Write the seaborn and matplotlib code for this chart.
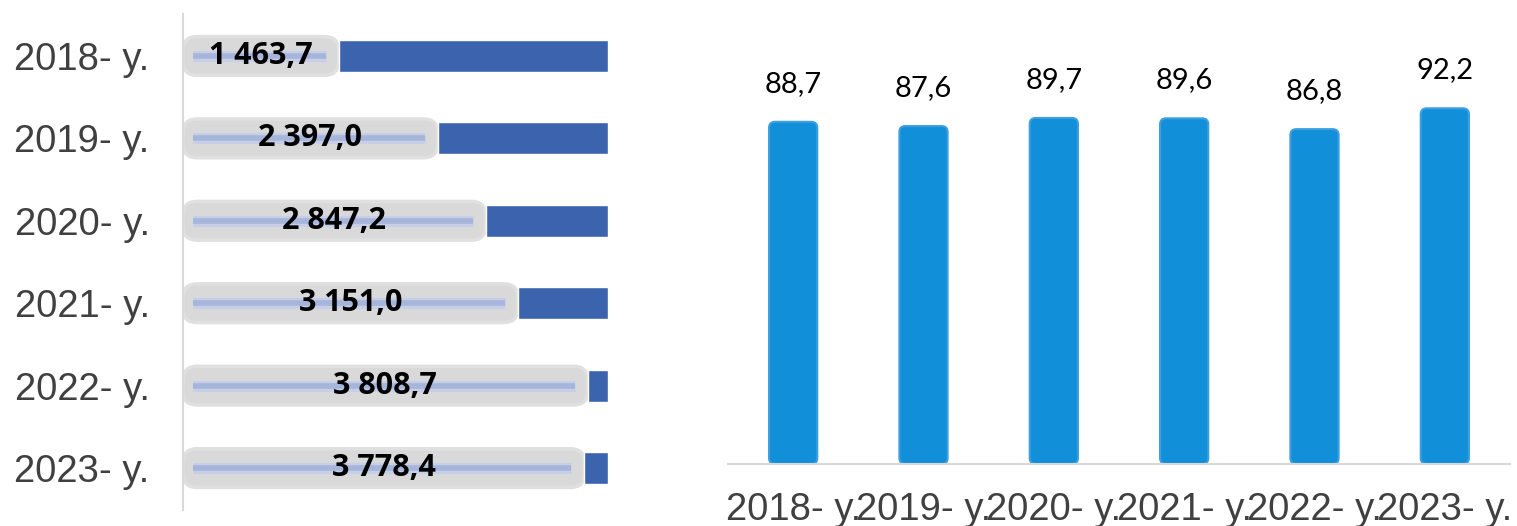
import matplotlib
matplotlib.use("Agg")
import matplotlib.pyplot as plt
import seaborn as sns
import pandas as pd
from matplotlib.patches import FancyBboxPatch

# data
years = ["2018- y.", "2019- y.", "2020- y.", "2021- y.", "2022- y.", "2023- y."]
volume = [1463.7, 2397.0, 2847.2, 3151.0, 3808.7, 3778.4]
volume_labels = ["1 463,7", "2 397,0", "2 847,2", "3 151,0", "3 808,7", "3 778,4"]
volume_cap = 4000
share = [88.7, 87.6, 89.7, 89.6, 86.8, 92.2]
share_labels = ["88,7", "87,6", "89,7", "89,6", "86,8", "92,2"]

sns.set_style("white")
plt.rcParams["font.family"] = ["Liberation Sans", "DejaVu Sans"]

W, H = 1517, 526
fig = plt.figure(figsize=(W / 100, H / 100), dpi=100)
ax1 = fig.add_axes([183 / W, 16 / H, 425 / W, 496 / H])
ax2 = fig.add_axes([728 / W, 62 / H, 782 / W, 434 / H])


def round_patches(ax, rpx, x_per_px, y_per_px, edge, lw):
    """Swap the plain bars for rounded, soft-edged ones."""
    for p in list(ax.patches):
        x, y, w, h = p.get_x(), p.get_y(), p.get_width(), p.get_height()
        fc = p.get_facecolor()
        p.remove()
        box = FancyBboxPatch((x, y), w, h,
                             boxstyle=f"round,pad=0,rounding_size={rpx * x_per_px}",
                             mutation_aspect=y_per_px / x_per_px,
                             facecolor=fc, edgecolor=edge, linewidth=lw, zorder=2)
        ax.add_patch(box)


# ---- left: volume bars ----
df1 = pd.DataFrame({"year": years, "volume": volume})
sns.barplot(data=df1, x="volume", y="year", orient="h", color="#d9d9d9",
            saturation=1, width=0.47, ax=ax1)
ax1.set_xlim(0, volume_cap)
xpp = volume_cap / 425
ypp = 6 / 496
round_patches(ax1, 14, xpp, ypp, "#e0e0e0", 2.5)

rest = [volume_cap - v for v in volume]
ax1.barh(range(len(years)), rest, left=volume, height=0.39, color="#3c64ae", zorder=3)

for i, (v, lab) in enumerate(zip(volume, volume_labels)):
    ax1.hlines(i, 10 * xpp, v - 13 * xpp, color="#c6cfe7", lw=8, zorder=4)
    ax1.hlines(i, 10 * xpp, v - 13 * xpp, color="#a6b5da", lw=4, zorder=4)
    ax1.text(v / 2, i, lab, ha="center", va="center", fontsize=22,
             fontweight="bold", family=["Open Sans", "DejaVu Sans"], color="black", zorder=5)

ax1.set_xlabel("")
ax1.set_ylabel("")
ax1.set_xticks([])
ax1.tick_params(axis="y", length=0, pad=24, labelsize=27.5, labelcolor="#404040")
for s in ["top", "right", "bottom"]:
    ax1.spines[s].set_visible(False)
ax1.spines["left"].set_color("#d9d9d9")
ax1.spines["left"].set_linewidth(1.5)

# ---- right: share bars ----
df2 = pd.DataFrame({"year": years, "share": share})
sns.barplot(data=df2, x="year", y="share", color="#118fd9", saturation=1,
            width=0.37, ax=ax2)
ax2.set_ylim(0, 112.5)
round_patches(ax2, 6, 6 / 782, 112.5 / 434, "#3d9fe0", 1.5)

for i, (v, lab) in enumerate(zip(share, share_labels)):
    ax2.text(i, v + 6.5, lab, ha="center", va="bottom", fontsize=21,
             family=["Lato", "DejaVu Sans"], color="black")

ax2.set_xlabel("")
ax2.set_ylabel("")
ax2.set_yticks([])
ax2.tick_params(axis="x", length=0, pad=20, labelsize=27.5, labelcolor="#404040")
for s in ["top", "right", "left"]:
    ax2.spines[s].set_visible(False)
ax2.spines["bottom"].set_color("#d9d9d9")
ax2.spines["bottom"].set_linewidth(1.5)

fig.savefig("out.png", dpi=100)
